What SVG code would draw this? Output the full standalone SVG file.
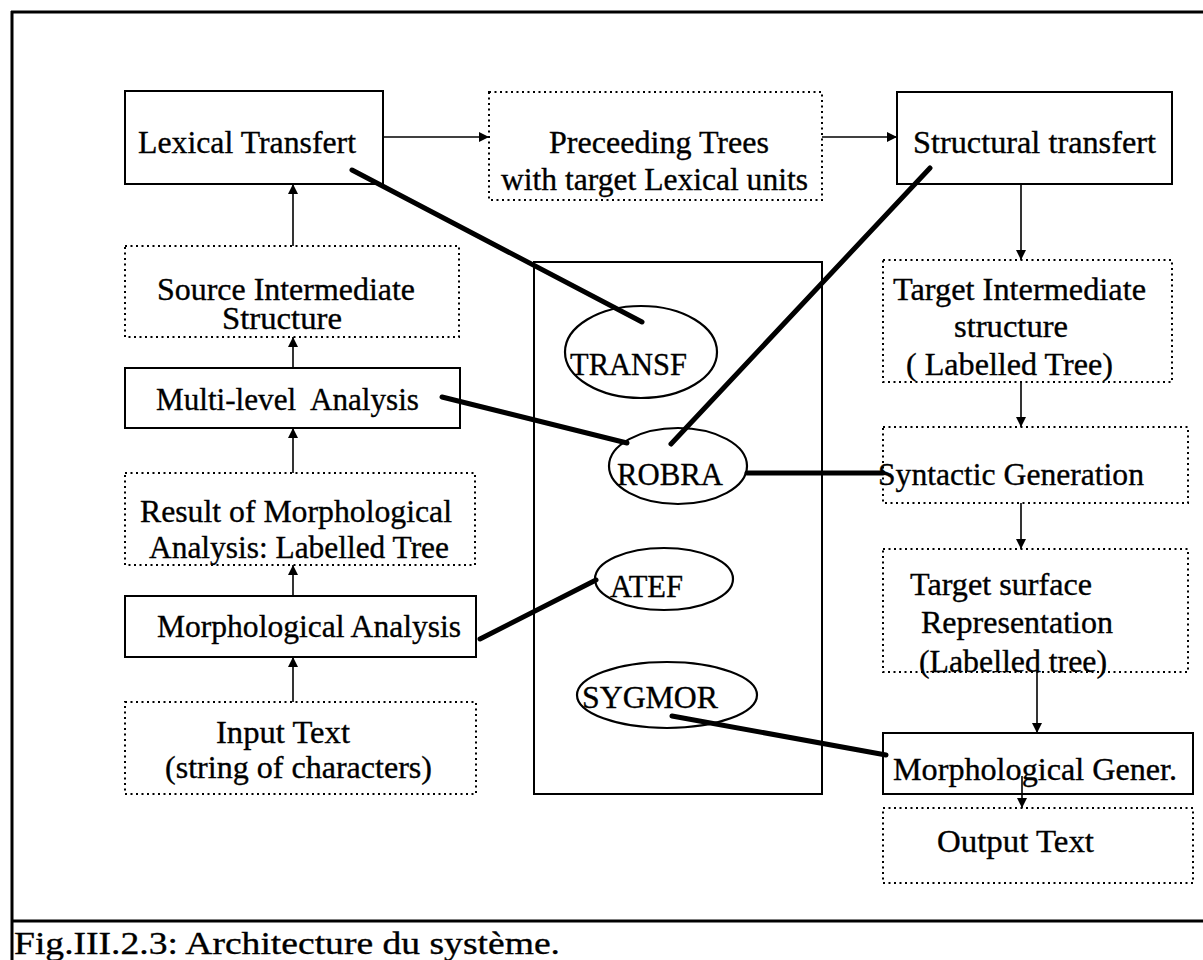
<svg xmlns="http://www.w3.org/2000/svg" width="1203" height="960" viewBox="0 0 1203 960">
  <style>
    text { font-family: "Liberation Serif", "Times New Roman", serif; font-size: 32.5px; fill: #000; stroke: #000; stroke-width: 0.35; }
    .box { fill: #fff; stroke: #000; stroke-width: 2; }
    .dot { fill: #fff; stroke: #000; stroke-width: 2; stroke-dasharray: 2 3.5; }
    .ell { fill: none; stroke: #000; stroke-width: 2.2; }
    .arrow { stroke: #000; stroke-width: 1.6; fill: none; marker-end: url(#head); }
    .link { stroke: #000; stroke-width: 5; stroke-linecap: round; fill: none; }
    .frame { stroke: #000; stroke-width: 3; fill: none; }
  </style>
  <defs>
    <marker id="head" viewBox="0 0 10 10" refX="10" refY="5" markerWidth="10" markerHeight="10" markerUnits="userSpaceOnUse" orient="auto">
      <path d="M0,0 L10,5 L0,10 z" fill="#000"/>
    </marker>
  </defs>
  <rect width="1203" height="960" fill="#fff"/>

  <!-- page frame and caption -->
  <g id="frame">
    <line class="frame" x1="11" y1="12" x2="1203" y2="12"/>
    <line class="frame" x1="12" y1="11" x2="12" y2="960"/>
    <line class="frame" x1="11" y1="921" x2="1203" y2="921"/>
    <text x="14" y="954" font-size="35" textLength="546" lengthAdjust="spacingAndGlyphs">Fig.III.2.3: Architecture du système.</text>
  </g>

  <!-- module container -->
  <g id="modules">
    <rect class="box" x="534" y="262" width="288" height="532" fill="none"/>
  </g>

  <!-- left column: analysis -->
  <g id="lexical-transfert">
    <rect class="box" x="125" y="91" width="258" height="93"/>
    <text x="138" y="153" textLength="218" lengthAdjust="spacingAndGlyphs">Lexical Transfert</text>
  </g>
  <g id="source-intermediate">
    <rect class="dot" x="125" y="246" width="334" height="91"/>
    <text x="157" y="300" textLength="258" lengthAdjust="spacingAndGlyphs">Source Intermediate</text>
    <text x="222" y="329" textLength="120" lengthAdjust="spacingAndGlyphs">Structure</text>
  </g>
  <g id="multi-level">
    <rect class="box" x="125" y="368" width="335" height="60"/>
    <text x="156" y="410" textLength="263" lengthAdjust="spacingAndGlyphs" xml:space="preserve">Multi-level  Analysis</text>
  </g>
  <g id="result-morph">
    <rect class="dot" x="125" y="473" width="350" height="92"/>
    <text x="140" y="522" textLength="312" lengthAdjust="spacingAndGlyphs">Result of Morphological</text>
    <text x="149" y="558" textLength="300" lengthAdjust="spacingAndGlyphs">Analysis: Labelled Tree</text>
  </g>
  <g id="morph-analysis">
    <rect class="box" x="125" y="596" width="351" height="61"/>
    <text x="157" y="637" textLength="304" lengthAdjust="spacingAndGlyphs">Morphological Analysis</text>
  </g>
  <g id="input-text">
    <rect class="dot" x="125" y="702" width="351" height="92"/>
    <text x="216" y="743" textLength="134" lengthAdjust="spacingAndGlyphs">Input Text</text>
    <text x="165" y="778" textLength="267" lengthAdjust="spacingAndGlyphs">(string of characters)</text>
  </g>

  <!-- top middle -->
  <g id="preceeding-trees">
    <rect class="dot" x="489" y="92" width="333" height="108"/>
    <text x="549" y="153" textLength="220" lengthAdjust="spacingAndGlyphs">Preceeding Trees</text>
    <text x="501" y="190" textLength="307" lengthAdjust="spacingAndGlyphs">with target Lexical units</text>
  </g>

  <!-- right column: generation -->
  <g id="structural-transfert">
    <rect class="box" x="897" y="92" width="275" height="92"/>
    <text x="913" y="153" textLength="243" lengthAdjust="spacingAndGlyphs">Structural transfert</text>
  </g>
  <g id="target-intermediate">
    <rect class="dot" x="883" y="260" width="289" height="122"/>
    <text x="893" y="300" textLength="253" lengthAdjust="spacingAndGlyphs">Target Intermediate</text>
    <text x="954" y="337" textLength="114" lengthAdjust="spacingAndGlyphs">structure</text>
    <text x="906" y="375" textLength="207" lengthAdjust="spacingAndGlyphs" xml:space="preserve">( Labelled Tree)</text>
  </g>
  <g id="syntactic-generation">
    <rect class="dot" x="883" y="427" width="305" height="76"/>
    <text x="878" y="485" textLength="266" lengthAdjust="spacingAndGlyphs">Syntactic Generation</text>
  </g>
  <g id="target-surface">
    <rect class="dot" x="883" y="549" width="305" height="123"/>
    <text x="910" y="595" textLength="182" lengthAdjust="spacingAndGlyphs">Target surface</text>
    <text x="921" y="633" textLength="192" lengthAdjust="spacingAndGlyphs">Representation</text>
    <text x="919" y="672" textLength="188" lengthAdjust="spacingAndGlyphs">(Labelled tree)</text>
  </g>
  <g id="morph-gener">
    <rect class="box" x="883" y="733" width="310" height="61"/>
    <text x="893" y="780" textLength="284" lengthAdjust="spacingAndGlyphs">Morphological Gener.</text>
  </g>
  <g id="output-text">
    <rect class="dot" x="883" y="808" width="310" height="75"/>
    <text x="937" y="852" textLength="157" lengthAdjust="spacingAndGlyphs">Output Text</text>
  </g>

  <!-- tool modules -->
  <g id="transf">
    <ellipse class="ell" cx="641" cy="352" rx="76" ry="46"/>
    <text x="570" y="375" textLength="117" lengthAdjust="spacingAndGlyphs">TRANSF</text>
  </g>
  <g id="robra">
    <ellipse class="ell" cx="678" cy="466" rx="69" ry="38"/>
    <text x="617" y="485" textLength="106" lengthAdjust="spacingAndGlyphs">ROBRA</text>
  </g>
  <g id="atef">
    <ellipse class="ell" cx="664" cy="579" rx="69" ry="31"/>
    <text x="610" y="597" textLength="73" lengthAdjust="spacingAndGlyphs">ATEF</text>
  </g>
  <g id="sygmor">
    <ellipse class="ell" cx="667" cy="695" rx="90" ry="33"/>
    <text x="582" y="708" textLength="136" lengthAdjust="spacingAndGlyphs">SYGMOR</text>
  </g>

  <!-- connectors -->
  <g id="connectors">
    <line class="arrow" x1="383" y1="137" x2="489" y2="137"/>
    <line class="arrow" x1="822" y1="137" x2="897" y2="137"/>
    <line class="arrow" x1="293" y1="246" x2="293" y2="184"/>
    <line class="arrow" x1="293" y1="368" x2="293" y2="337"/>
    <line class="arrow" x1="293" y1="473" x2="293" y2="428"/>
    <line class="arrow" x1="293" y1="596" x2="293" y2="565"/>
    <line class="arrow" x1="293" y1="702" x2="293" y2="657"/>
    <line class="arrow" x1="1021" y1="184" x2="1021" y2="260"/>
    <line class="arrow" x1="1021" y1="382" x2="1021" y2="427"/>
    <line class="arrow" x1="1021" y1="503" x2="1021" y2="549"/>
    <line class="arrow" x1="1037" y1="672" x2="1037" y2="733"/>
    <line class="arrow" x1="1022" y1="776" x2="1022" y2="808"/>

    <line class="link" x1="352" y1="170" x2="642" y2="322"/>
    <line class="link" x1="442" y1="397" x2="627" y2="443"/>
    <line class="link" stroke-width="4" x1="930" y1="168" x2="671" y2="444"/>
    <line class="link" stroke-linecap="butt" x1="747" y1="473" x2="883" y2="473"/>
    <line class="link" x1="480" y1="639" x2="596" y2="580"/>
    <line class="link" x1="672" y1="716" x2="886" y2="755"/>
  </g>
</svg>
